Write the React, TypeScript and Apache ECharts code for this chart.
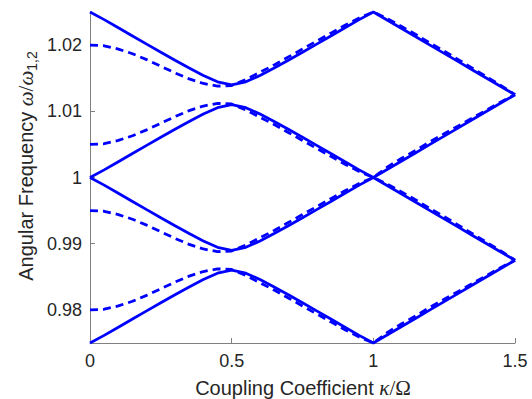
import React, { useEffect, useRef } from "react";
import * as echarts from "echarts";

// Coupling coefficient samples (κ/Ω)
const kappa = [
  0, 0.05, 0.1, 0.15, 0.2, 0.25, 0.3, 0.35, 0.4, 0.45, 0.5, 0.55, 0.6, 0.65, 0.7, 0.75,
  0.8, 0.85, 0.9, 0.95, 1.0, 1.05, 1.1, 1.15, 1.2, 1.25, 1.3, 1.35, 1.4, 1.45, 1.5,
];

// Solid branches (normalised angular frequency)
const solidUpperA = [
  1.025, 1.02385, 1.02261, 1.02138, 1.02015, 1.01893, 1.01772, 1.01654, 1.01542, 1.01445, 1.014,
  1.01445, 1.01542, 1.01654, 1.01772, 1.01893, 1.02015, 1.02138, 1.02261, 1.02385, 1.025,
  1.02375, 1.0225, 1.02125, 1.02, 1.01875, 1.0175, 1.01625, 1.015, 1.01375, 1.0125,
];
const solidUpperB = [
  1.0, 1.00115, 1.00239, 1.00362, 1.00485, 1.00607, 1.00728, 1.00846, 1.00958, 1.01055, 1.011,
  1.01055, 1.00958, 1.00846, 1.00728, 1.00607, 1.00485, 1.00362, 1.00239, 1.00115, 1.0,
  1.00125, 1.0025, 1.00375, 1.005, 1.00625, 1.0075, 1.00875, 1.01, 1.01125, 1.0125,
];
const solidLowerA = [
  1.0, 0.99885, 0.99761, 0.99638, 0.99515, 0.99393, 0.99272, 0.99154, 0.99042, 0.98945, 0.989,
  0.98945, 0.99042, 0.99154, 0.99272, 0.99393, 0.99515, 0.99638, 0.99761, 0.99885, 1.0,
  0.99875, 0.9975, 0.99625, 0.995, 0.99375, 0.9925, 0.99125, 0.99, 0.98875, 0.9875,
];
const solidLowerB = [
  0.975, 0.97615, 0.97739, 0.97862, 0.97985, 0.98107, 0.98228, 0.98346, 0.98458, 0.98555, 0.986,
  0.98555, 0.98458, 0.98346, 0.98228, 0.98107, 0.97985, 0.97862, 0.97739, 0.97615, 0.975,
  0.97625, 0.9775, 0.97875, 0.98, 0.98125, 0.9825, 0.98375, 0.985, 0.98625, 0.9875,
];

// Dashed branches
const dashedUpperA = [
  1.02, 1.0199, 1.0194, 1.0187, 1.0178, 1.0168, 1.0158, 1.0149, 1.0142, 1.0138, 1.0139,
  1.0148, 1.0159, 1.017, 1.0182, 1.0194, 1.0206, 1.0218, 1.023, 1.0241, 1.025,
  1.024, 1.0228, 1.0216, 1.0203, 1.0191, 1.0178, 1.0165, 1.0152, 1.0139, 1.0125,
];
const dashedUpperB = [
  1.005, 1.0051, 1.0056, 1.0063, 1.0072, 1.0082, 1.0092, 1.0101, 1.0108, 1.0112, 1.0111,
  1.0102, 1.0091, 1.008, 1.0068, 1.0056, 1.0044, 1.0032, 1.002, 1.0009, 1.0,
  1.0016, 1.0029, 1.0041, 1.0054, 1.0066, 1.0078, 1.009, 1.0102, 1.0114, 1.0125,
];
const dashedLowerA = [
  0.995, 0.9949, 0.9944, 0.9937, 0.9928, 0.9918, 0.9908, 0.9899, 0.9892, 0.9888, 0.9889,
  0.9898, 0.9909, 0.992, 0.9932, 0.9944, 0.9956, 0.9968, 0.998, 0.9991, 1.0,
  0.999, 0.9978, 0.9966, 0.9953, 0.9941, 0.9928, 0.9915, 0.9902, 0.9889, 0.9875,
];
const dashedLowerB = [
  0.98, 0.9801, 0.9806, 0.9813, 0.9822, 0.9832, 0.9842, 0.9851, 0.9858, 0.9862, 0.9861,
  0.9852, 0.9841, 0.983, 0.9818, 0.9806, 0.9794, 0.9782, 0.977, 0.9759, 0.975,
  0.9766, 0.9779, 0.9791, 0.9804, 0.9816, 0.9828, 0.984, 0.9852, 0.9864, 0.9875,
];

const xTicks = [0, 0.5, 1, 1.5];
const yTicks = [0.98, 0.99, 1, 1.01, 1.02];

const SANS = "'Liberation Sans', Arial, Helvetica, sans-serif";
const SERIF = "'Liberation Serif', 'Times New Roman', serif";
const TEXT = "#262626";
const AXIS = "#808080";
const BLUE = "#0000ff";

function branch(values: number[], dashed: boolean) {
  return {
    type: "line",
    data: kappa.map((k, i) => [k, values[i]]),
    showSymbol: false,
    clip: false,
    silent: true,
    lineStyle: {
      color: BLUE,
      width: 2.8,
      type: dashed ? [8, 5] : "solid",
      cap: "butt",
    },
  };
}

export default function App() {
  const ref = useRef<HTMLDivElement>(null);

  useEffect(() => {
    if (!ref.current) return;
    const chart = echarts.init(ref.current, undefined, { renderer: "svg" });

    // y-axis title, with a lowered "1,2" subscript
    const yRich = {
      n: { fontFamily: SANS, fontSize: 20, lineHeight: 26, color: TEXT },
      g: { fontFamily: SERIF, fontStyle: "italic", fontSize: 21, lineHeight: 26, color: TEXT },
      u: { fontFamily: SERIF, fontSize: 21, lineHeight: 26, color: TEXT },
      s: { fontFamily: SANS, fontSize: 14, lineHeight: 13, verticalAlign: "bottom", color: TEXT },
    };
    // x-axis title
    const xRich = {
      n: { fontFamily: SANS, fontSize: 20, lineHeight: 21, color: TEXT },
      g: { fontFamily: SERIF, fontStyle: "italic", fontSize: 21, lineHeight: 21, color: TEXT },
      u: { fontFamily: SERIF, fontSize: 21, lineHeight: 21, color: TEXT },
    };

    chart.setOption({
      animation: false,
      backgroundColor: "#ffffff",
      grid: { left: 90, right: 17, top: 12, bottom: 56, containLabel: false },
      xAxis: {
        type: "value",
        min: 0,
        max: 1.5,
        interval: 0.5,
        axisLine: { show: true, lineStyle: { color: AXIS, width: 1 } },
        axisTick: { show: true, inside: true, length: 5, lineStyle: { color: AXIS } },
        axisLabel: {
          color: TEXT,
          fontFamily: SANS,
          fontSize: 18,
          margin: 9,
          customValues: xTicks,
          formatter: (v: number) => String(v),
        },
        splitLine: { show: false },
      },
      yAxis: {
        type: "value",
        min: 0.975,
        max: 1.025,
        axisLine: { show: true, lineStyle: { color: AXIS, width: 1 } },
        axisTick: {
          show: true,
          inside: true,
          length: 5,
          customValues: yTicks,
          lineStyle: { color: AXIS },
        },
        axisLabel: {
          color: TEXT,
          fontFamily: SANS,
          fontSize: 18,
          margin: 8,
          customValues: yTicks,
          formatter: (v: number) => String(Math.round(v * 100) / 100),
        },
        splitLine: { show: false },
      },
      graphic: [
        {
          type: "text",
          x: 26,
          y: 166,
          rotation: Math.PI / 2,
          silent: true,
          style: {
            text: "{n|Angular Frequency }{g|ω}{u|/}{g|ω}{s|1,2}",
            rich: yRich,
            align: "center",
            verticalAlign: "middle",
            fill: TEXT,
          },
        },
        {
          type: "text",
          x: 303,
          y: 388,
          silent: true,
          style: {
            text: "{n|Coupling Coefficient }{g|κ}{u|/Ω}",
            rich: xRich,
            align: "center",
            verticalAlign: "middle",
            fill: TEXT,
          },
        },
      ],
      series: [
        branch(solidUpperA, false),
        branch(solidUpperB, false),
        branch(solidLowerA, false),
        branch(solidLowerB, false),
        branch(dashedUpperA, true),
        branch(dashedUpperB, true),
        branch(dashedLowerA, true),
        branch(dashedLowerB, true),
      ],
    });

    return () => chart.dispose();
  }, []);

  return (
    <div
      ref={ref}
      style={{ position: "fixed", left: 0, top: 0, width: 532, height: 399, background: "#fff" }}
    />
  );
}
